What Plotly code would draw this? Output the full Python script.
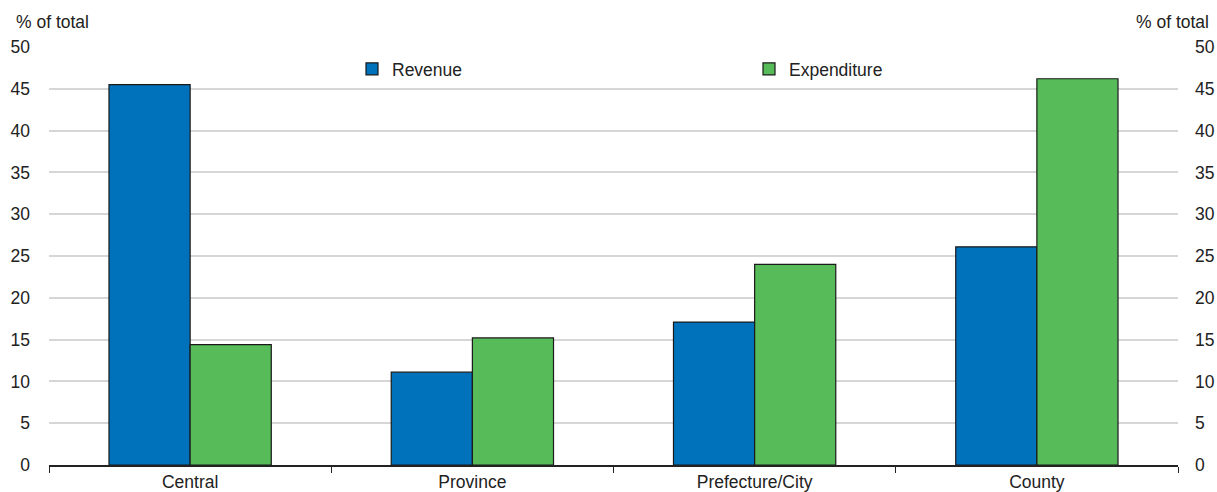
import plotly.graph_objects as go

categories = ["Central", "Province", "Prefecture/City", "County"]
revenue = [45.5, 11.1, 17.1, 26.1]
expenditure = [14.4, 15.2, 24.0, 46.2]
y_ticks = [0, 5, 10, 15, 20, 25, 30, 35, 40, 45, 50]

W, H = 1217, 492
ml, mr, mt, mb = 49, 39, 47, 27
PW, PH = W - ml - mr, H - mt - mb

FONT = "Liberation Sans Narrow, Arial Narrow, Liberation Sans, Arial, sans-serif"
FS = 17.5

fig = go.Figure()
fig.add_trace(go.Bar(name="Revenue", x=categories, y=revenue,
                     marker=dict(color="#0072BC", line=dict(color="#1a1a1a", width=1.2))))
fig.add_trace(go.Bar(name="Expenditure", x=categories, y=expenditure,
                     marker=dict(color="#57BB5A", line=dict(color="#1a1a1a", width=1.2))))
# invisible trace to activate the right-hand axis
fig.add_trace(go.Scatter(x=categories, y=revenue, yaxis="y2", mode="markers",
                         marker=dict(opacity=0), showlegend=False, hoverinfo="skip"))

fig.update_layout(
    width=W, height=H,
    margin=dict(l=ml, r=mr, t=mt, b=mb, autoexpand=False),
    paper_bgcolor="white", plot_bgcolor="white",
    font=dict(family=FONT, size=FS, color="#222222"),
    barmode="group", bargap=0.425, bargroupgap=0,
    showlegend=True,
    legend=dict(orientation="h", x=(352 - ml) / PW, xanchor="left",
                y=(H - mb - 69) / PH, yanchor="middle",
                entrywidth=352, entrywidthmode="pixels",
                bgcolor="rgba(0,0,0,0)", font=dict(size=FS),
                itemwidth=30, tracegroupgap=0),
    xaxis=dict(showline=True, linecolor="#222222", linewidth=2,
               ticks="outside", tickson="boundaries", ticklen=6,
               tickcolor="#222222", tickwidth=1, showgrid=False,
               tickfont=dict(size=FS)),
    yaxis=dict(range=[0, 50], tickvals=y_ticks, showgrid=True,
               gridcolor="#d6d6d6", gridwidth=2, zeroline=False,
               showline=False, ticks="", ticklabelstandoff=18,
               tickfont=dict(size=FS)),
    yaxis2=dict(range=[0, 50], tickvals=y_ticks, overlaying="y", side="right",
                showgrid=False, zeroline=False, showline=False, ticks="",
                ticklabelstandoff=16, tickfont=dict(size=FS)),
)

fig.add_annotation(text="% of total", xref="paper", yref="paper",
                   x=-(ml - 14) / PW, y=1 + (mt - 22) / PH,
                   xanchor="left", yanchor="middle", showarrow=False, font=dict(size=FS))
fig.add_annotation(text="% of total", xref="paper", yref="paper",
                   x=1 + (1211 - (W - mr)) / PW, y=1 + (mt - 22) / PH,
                   xanchor="right", yanchor="middle", showarrow=False, font=dict(size=FS))

fig.write_html("out.html", config={"displayModeBar": False},
               post_script="document.body.style.margin='0';document.body.style.overflow='hidden';")
